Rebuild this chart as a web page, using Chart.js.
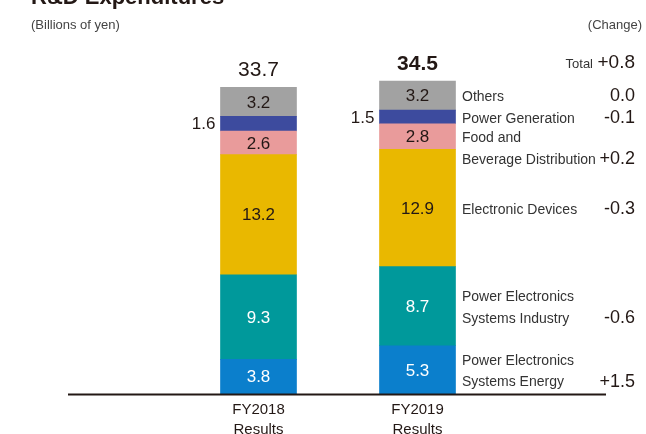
<!DOCTYPE html>
<html><head><meta charset="utf-8">
<script src="https://cdn.jsdelivr.net/npm/chart.js@4"></script>
<style>html,body{margin:0;padding:0;background:#fff;overflow:hidden}</style>
</head><body>
<canvas id="c" width="646" height="434"></canvas>
<script>
// ---- data ----
const categories = [['FY2018', 'Results'], ['FY2019', 'Results']];
const segments = ['Power Electronics Systems Energy', 'Power Electronics Systems Industry', 'Electronic Devices', 'Food and Beverage Distribution', 'Power Generation', 'Others'];
const segmentLabelLines = [['Power Electronics', 'Systems Energy'], ['Power Electronics', 'Systems Industry'], ['Electronic Devices'], ['Food and', 'Beverage Distribution'], ['Power Generation'], ['Others']];
const fy2018 = [3.8, 9.3, 13.2, 2.6, 1.6, 3.2];
const fy2019 = [5.3, 8.7, 12.9, 2.8, 1.5, 3.2];
const totals = ['33.7', '34.5'];
const changes = ['+1.5', '-0.6', '-0.3', '+0.2', '-0.1', '0.0'];
const totalChange = '+0.8';
const titleText = 'R&D Expenditures';
const unitText = '(Billions of yen)';
const changeText = '(Change)';
const totalText = 'Total';

// ---- styles ----
const colors = ['#0b7fcc', '#00999b', '#e9b800', '#e99b9b', '#3d4b9e', '#a2a2a2'];
const valueColors = ['#ffffff', '#ffffff', '#231815', '#231815', '#231815', '#231815'];
const FONT = '"Liberation Sans", Arial, Helvetica, sans-serif';
const DARK = '#231815';
const OUTSIDE_INDEX = 4; // value drawn left of the bar
const legendShift = {3: 10.5};

const datasets = segments.map((name, i) => ({
  label: name,
  data: [fy2018[i], fy2019[i]],
  backgroundColor: colors[i],
  borderWidth: 0,
  barThickness: 76
}));

const annot = {
  id: 'annot',
  afterDraw(chart) {
    const ctx = chart.ctx;
    const ys = chart.scales.y;
    ctx.save();
    // base line
    const y0 = ys.getPixelForValue(0);
    ctx.fillStyle = DARK;
    ctx.fillRect(68, y0 - 0.5, 538, 2);

    // values in bars
    ctx.textBaseline = 'middle';
    datasets.forEach((ds, i) => {
      const meta = chart.getDatasetMeta(i);
      meta.data.forEach((el, j) => {
        const cy = (el.y + el.base) / 2;
        const txt = ds.data[j].toFixed(1);
        ctx.font = '17px ' + FONT;
        if (i === OUTSIDE_INDEX) {
          ctx.fillStyle = DARK;
          ctx.textAlign = 'right';
          ctx.fillText(txt, el.x - el.width / 2 - 5, cy + 1);
        } else {
          ctx.fillStyle = valueColors[i];
          ctx.textAlign = 'center';
          ctx.fillText(txt, el.x, cy + 1);
        }
      });
    });

    // totals
    const topMeta = chart.getDatasetMeta(datasets.length - 1);
    topMeta.data.forEach((el, j) => {
      ctx.font = (j === 1 ? 'bold ' : '') + '21px ' + FONT;
      ctx.fillStyle = DARK;
      ctx.textAlign = 'center';
      ctx.fillText(totals[j], el.x, el.y - 17);
    });

    // right legend with changes
    const lh = 21.5;
    datasets.forEach((ds, i) => {
      const el = chart.getDatasetMeta(i).data[1];
      const cy = (el.y + el.base) / 2 + 2;
      const lines = segmentLabelLines[i];
      const start = cy - (lines.length - 1) * lh / 2 + (legendShift[i] || 0);
      ctx.font = '14px ' + FONT;
      ctx.fillStyle = '#333333';
      ctx.textAlign = 'left';
      lines.forEach((ln, k) => ctx.fillText(ln, 462, start + k * lh));
      ctx.font = '18px ' + FONT;
      ctx.fillStyle = DARK;
      ctx.textAlign = 'right';
      ctx.fillText(changes[i], 635, start + (lines.length - 1) * lh - 1);
    });

    // total change
    const tEl = topMeta.data[1];
    ctx.textAlign = 'right';
    ctx.fillStyle = '#333333';
    ctx.font = '13px ' + FONT;
    ctx.fillText(totalText, 593, tEl.y - 17);
    ctx.font = '19px ' + FONT;
    ctx.fillStyle = DARK;
    ctx.fillText(totalChange, 635, tEl.y - 18);

    // headers
    ctx.font = '13px ' + FONT;
    ctx.fillStyle = '#444444';
    ctx.textAlign = 'left';
    ctx.fillText(unitText, 31, 25);
    ctx.textAlign = 'right';
    ctx.fillText(changeText, 642, 25);

    ctx.font = 'bold 22px ' + FONT;
    ctx.fillStyle = DARK;
    ctx.textAlign = 'left';
    ctx.textBaseline = 'alphabetic';
    ctx.fillText(titleText, 31, 4);
    ctx.restore();
  }
};

new Chart(document.getElementById('c'), {
  type: 'bar',
  data: { labels: categories, datasets },
  options: {
    responsive: false,
    devicePixelRatio: 1,
    animation: false,
    layout: { padding: { left: 179, right: 149, top: 30, bottom: 0 } },
    plugins: { legend: { display: false }, tooltip: { enabled: false } },
    scales: {
      x: {
        stacked: true,
        grid: { display: false, drawTicks: false },
        border: { display: false },
        ticks: { color: DARK, font: { family: FONT, size: 15, lineHeight: 1.33 }, padding: 6, maxRotation: 0 },
        afterFit: s => { s.height = 40; }
      },
      y: { stacked: true, display: false, min: 0, max: 40 }
    }
  },
  plugins: [annot]
});
</script>
</body></html>
